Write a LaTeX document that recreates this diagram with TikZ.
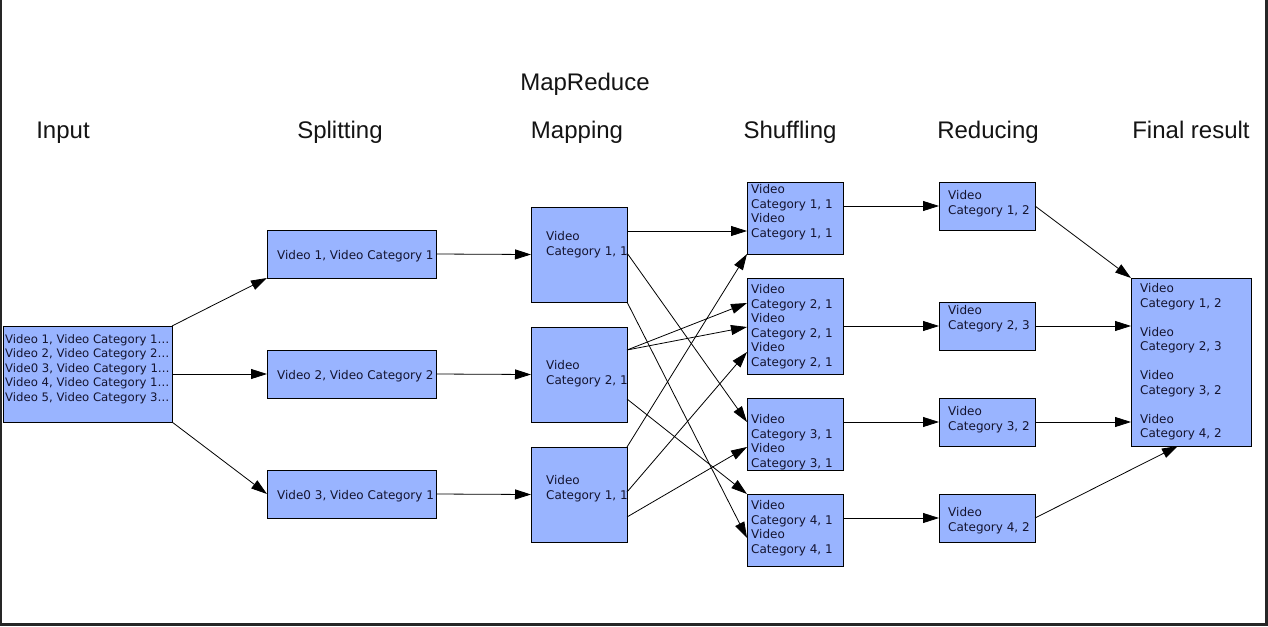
\documentclass[tikz,border=0pt]{standalone}
\usepackage{fontspec}
\setmainfont{DejaVu Sans}
\newfontfamily\titlefont{Liberation Sans}
\usetikzlibrary{arrows.meta}
\definecolor{boxblue}{RGB}{153,180,255}
\definecolor{txtnavy}{RGB}{20,20,48}
\definecolor{framegray}{RGB}{38,38,38}
\newcommand\mkbox[5]{\node[box, minimum width={(#4-#2)*1pt}, minimum height={(#5-#3)*1pt}] (#1) at ({(#2+#4)/2},{(#3+#5)/2}) {};}
\begin{document}
\begin{tikzpicture}[x=1pt,y=-1pt,
  box/.style={draw=black, line width=1pt, fill=boxblue, inner sep=0pt, outer sep=0pt, rectangle},
  boxtext/.style={inner sep=0pt, align=left, text=txtnavy, font=\fontsize{12}{14.5}\selectfont, anchor=north west},
  title/.style={font=\titlefont\fontsize{24}{28}\selectfont, anchor=base, text=black!92, inner sep=0pt},
  conn/.style={line width=0.8pt, -{Triangle[length=16pt,width=10pt]}}]
\useasboundingbox (0,0) rectangle (1268,626);
\fill[white] (0,0) rectangle (1268,626);
% frame
\draw[framegray, line width=2pt] (1,0) -- (1,626);
\draw[framegray, line width=3pt] (0,624.5) -- (1268,624.5);
\draw[framegray, line width=3pt] (1266.5,0) -- (1266.5,626);

% titles
\node[title] (tmr) at (585,90) {MapReduce};
\node[title] (tin) at (63,138) {Input};
\node[title] (tsp) at (340,138) {Splitting};
\node[title] (tma) at (577,138) {Mapping};
\node[title] (tsh) at (790,138) {Shuffling};
\node[title] (tre) at (988,138) {Reducing};
\node[title] (tfi) at (1191,138) {Final result};

% boxes
\mkbox{in}{3}{326}{172}{422}
\mkbox{sp1}{267}{230}{436}{278}
\mkbox{sp2}{267}{350}{436}{398}
\mkbox{sp3}{267}{470}{436}{518}
\mkbox{m1}{531}{207}{627}{302}
\mkbox{m2}{531}{327}{627}{422}
\mkbox{m3}{531}{447}{627}{542}
\mkbox{s1}{747}{182}{843}{254}
\mkbox{s2}{747}{278}{843}{374}
\mkbox{s3}{747}{398}{843}{470}
\mkbox{s4}{747}{494}{843}{566}
\mkbox{r1}{939}{182}{1035}{230}
\mkbox{r2}{939}{302}{1035}{350}
\mkbox{r3}{939}{398}{1035}{446}
\mkbox{r4}{939}{494}{1035}{542}
\mkbox{f}{1131}{278}{1251}{446}

% texts
\node[boxtext, font=\fontsize{11.7}{14.5}\selectfont] (int) at (5,334) {Video 1, Video Category 1…\\Video 2, Video Category 2…\\Vide0 3, Video Category 1…\\Video 4, Video Category 1…\\Video 5, Video Category 3…};
\node[boxtext, anchor=base west] (sp1t) at (277,259) {Video 1, Video Category 1};
\node[boxtext, anchor=base west] (sp2t) at (277,379) {Video 2, Video Category 2};
\node[boxtext, anchor=base west] (sp3t) at (277,499) {Vide0 3, Video Category 1};
\node[boxtext] (m1t) at (546,231.3) {Video\\Category 1, 1};
\node[boxtext] (m2t) at (546,360.3) {Video\\Category 2, 1};
\node[boxtext] (m3t) at (546,475.3) {Video\\Category 1, 1};
\node[boxtext] (s1t) at (751,184.3) {Video\\Category 1, 1\\Video\\Category 1, 1};
\node[boxtext] (s2t) at (751,284.3) {Video\\Category 2, 1\\Video\\Category 2, 1\\Video\\Category 2, 1};
\node[boxtext] (s3t) at (751,414.3) {Video\\Category 3, 1\\Video\\Category 3, 1};
\node[boxtext] (s4t) at (751,500.3) {Video\\Category 4, 1\\Video\\Category 4, 1};
\node[boxtext] (r1t) at (948,190.3) {Video\\Category 1, 2};
\node[boxtext] (r2t) at (948,305.3) {Video\\Category 2, 3};
\node[boxtext] (r3t) at (948,406.3) {Video\\Category 3, 2};
\node[boxtext] (r4t) at (948,507.3) {Video\\Category 4, 2};
\node[boxtext] (ft) at (1140,283.3) {Video\\Category 1, 2\\[14.5pt]Video\\Category 2, 3\\[14.5pt]Video\\Category 3, 2\\[14.5pt]Video\\Category 4, 2};

% input -> splitting
\draw[conn] (in.north east) -- (sp1.south west);
\draw[conn] (in.east) -- (sp2.west);
\draw[conn] (in.south east) -- (sp3.west);
% splitting -> mapping
\draw[conn] (sp1.east) -- (m1.west);
\draw[conn] (sp2.east) -- (m2.west);
\draw[conn] (sp3.east) -- (m3.west);
% mapping -> shuffling
\coordinate (m1a) at ([yshift=-24pt]m1.north east);
\draw[conn] (m1a) -- (s1.west |- m1a);
\draw[conn] ([yshift=-46pt]m1.north east) -- ([yshift=-24pt]s3.north west);
\draw[conn] (m1.south east) -- ([yshift=-44pt]s4.north west);
\draw[conn] ([yshift=-23pt]m2.north east) -- ([yshift=-25pt]s2.north west);
\draw[conn] ([yshift=-23pt]m2.north east) -- ([yshift=-49pt]s2.north west);
\draw[conn] ([yshift=-72pt]m2.north east) -- (s4.north west);
\draw[conn] (m3.north east) -- (s1.south west);
\draw[conn] ([yshift=-45pt]m3.north east) -- ([yshift=-74pt]s2.north west);
\draw[conn] ([yshift=-70pt]m3.north east) -- ([yshift=-49pt]s3.north west);
% shuffling -> reducing
\draw[conn] (s1.east |- r1.west) -- (r1.west);
\draw[conn] (s2.east) -- (r2.west);
\draw[conn] (s3.east |- r3.west) -- (r3.west);
\draw[conn] (s4.east |- r4.west) -- (r4.west);
% reducing -> final
\draw[conn] (r1.east) -- (f.north west);
\draw[conn] (r2.east) -- (f.west |- r2.east);
\draw[conn] (r3.east) -- (f.west |- r3.east);
\draw[conn] (r4.east) -- ([xshift=-13pt]f.south);
\end{tikzpicture}
\end{document}
